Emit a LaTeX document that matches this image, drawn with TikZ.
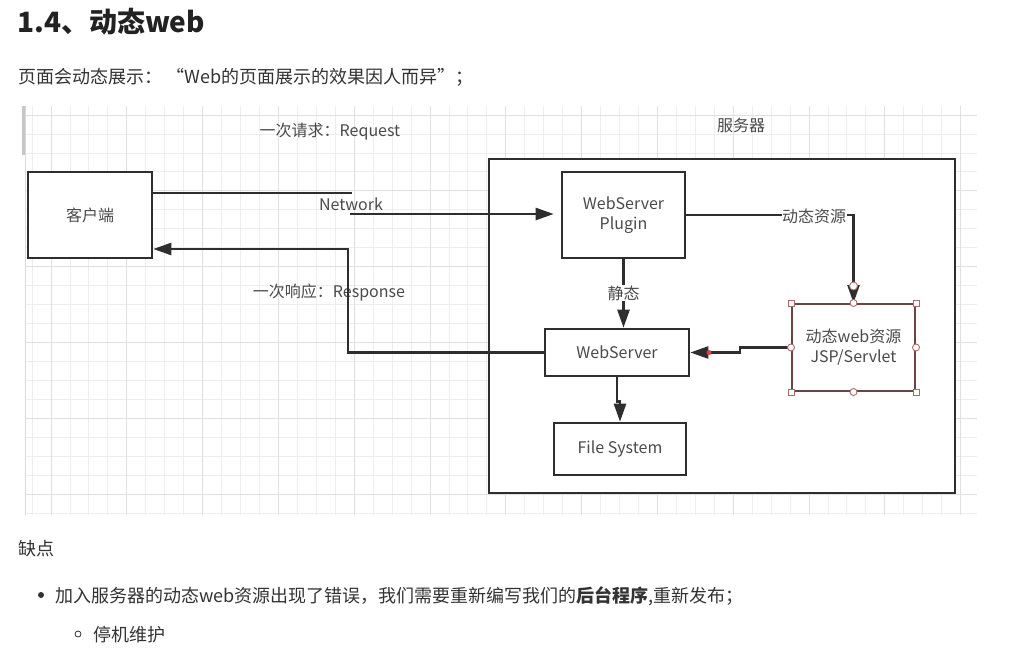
\documentclass[tikz,border=0pt]{standalone}
\usepackage{fontspec}
\setmainfont{Noto Sans CJK SC}
\usetikzlibrary{arrows.meta}
\definecolor{ln}{HTML}{2E2E2E}
\definecolor{tx}{HTML}{4A4A4A}
\definecolor{pg}{HTML}{333333}
\definecolor{ttl}{HTML}{222222}
\definecolor{gmin}{HTML}{EEEEEE}
\definecolor{gmaj}{HTML}{E0E0E0}
\definecolor{jspb}{HTML}{6A4444}
\definecolor{hdl}{HTML}{B06A6A}
\definecolor{reddot}{HTML}{E04040}
\begin{document}
\begin{tikzpicture}[x=1pt,y=-1pt,
  box/.style={draw=ln,line width=2.6pt,fill=white,inner sep=0pt,align=center,text=tx,
    font=\fontsize{16}{20}\selectfont},
  lbl/.style={text=tx,font=\fontsize{16}{20}\selectfont,inner sep=1pt},
  pagetext/.style={text=pg,font=\fontsize{18}{22}\selectfont,inner sep=0pt},
  conn/.style={draw=ln,line width=2.4pt,-{Triangle[length=18pt,width=12pt]}},
  plain/.style={draw=ln,line width=2.4pt},
  sqh/.style={draw=hdl,fill=white,line width=0.9pt,inner sep=0pt,minimum size=6pt},
  cih/.style={draw=hdl,fill=white,line width=0.9pt,circle,inner sep=0pt,minimum size=7pt}]
\fill[white] (0,0) rectangle (1015,651);
\useasboundingbox (0,0) rectangle (1015,651);
% grid
\foreach \i in {0,...,49} {\pgfmathsetmacro\gx{32+18.95*\i}
  \draw[gmin,line width=0.8pt] (\gx,106) -- (\gx,515);}
\foreach \i in {0,...,21} {\pgfmathsetmacro\gy{115+18.95*\i}
  \draw[gmin,line width=0.8pt] (25,\gy) -- (977,\gy);}
\foreach \i in {0,...,12} {\pgfmathsetmacro\gx{51+75.8*\i}
  \draw[gmaj,line width=1pt] (\gx,106) -- (\gx,515);}
\foreach \i in {0,...,5} {\pgfmathsetmacro\gy{115+75.8*\i}
  \draw[gmaj,line width=1pt] (25,\gy) -- (977,\gy);}
\fill[gray!45] (22,106) rectangle (25,155);
\draw[gray!30,line width=1pt] (25,106) -- (25,515);
% page text
\node[anchor=base west,text=ttl,inner sep=0pt,font=\fontsize{28}{30}\selectfont\bfseries] (title) at (17,32) {1.4、动态web};
\node[anchor=base west,pagetext] (sub) at (18,83) {页面会动态展示： “Web的页面展示的效果因人而异”；};
\node[anchor=base west,pagetext] (defect) at (18,555) {缺点};
\node[circle,fill=pg,inner sep=0pt,minimum size=6pt] (dot1) at (41,595) {};
\node[anchor=base west,pagetext] (b1) at (55,602) {加入服务器的动态web资源出现了错误，我们需要重新编写我们的\textbf{后台程序},重新发布；};
\node[circle,draw=pg,line width=0.8pt,inner sep=0pt,minimum size=6pt] (dot2) at (78,634) {};
\node[anchor=base west,pagetext] (b2) at (93,641) {停机维护};
% boxes
\node[box,minimum width=124pt,minimum height=86pt] (client) at (90,215) {客户端};
\node[box,line width=2.8pt,minimum width=466pt,minimum height=334pt] (server) at (722,326) {};
\node[box,minimum width=123pt,minimum height=86pt] (plugin) at (623.5,215) {WebServer\\Plugin};
\node[box,minimum width=144pt,minimum height=47pt] (ws) at (617,352.5) {WebServer};
\node[box,minimum width=132pt,minimum height=52pt] (fs) at (620,449) {File System};
\node[box,draw=jspb,line width=2pt,minimum width=123pt,minimum height=87pt] (jsp) at (853.5,347.5) {动态web资源\\JSP/Servlet};
% labels
\node[lbl] (lreq) at (330,132) {一次请求：Request};
\node[lbl] (lnet) at (351,204) {Network};
\node[lbl] (lsrv) at (741,125) {服务器};
\node[lbl] (lresp) at (329,293) {一次响应：Response};
% connectors
\coordinate (q1) at (352,193);
\coordinate (q2) at (350,214);
\draw[plain] (client.east |- q1) -- (q1);
\draw[conn,shorten >=7pt] (q2) -- (plugin.west |- q2);
\coordinate (r1) at (348,249);
\draw[conn] (ws.west) -| (r1) -- (client.east |- r1);
\draw[conn] (plugin.east) -| (jsp.north);
\node[lbl,fill=white,inner sep=0.5pt] (ldyn) at (814,216) {动态资源};
\draw[conn] (plugin.south) -- (plugin.south |- ws.north);
\node[lbl,fill=white,inner sep=1pt] (lsta) at (623.5,293) {静态};
\draw[conn] (jsp.west) -- ++(-51,0) |- (ws.east);
\draw[conn] (ws.south) -- ++(0,24) -| (fs.north);
\node[circle,fill=reddot,inner sep=0pt,minimum size=5pt] (rdot) at (709,352.5) {};
% selection handles
\node[sqh] (h1) at (jsp.north west) {};
\node[sqh] (h2) at (jsp.north east) {};
\node[sqh] (h3) at (jsp.south west) {};
\node[sqh] (h4) at (jsp.south east) {};
\node[cih] (h5) at (jsp.north) {};
\node[cih] (h6) at (jsp.south) {};
\node[cih] (h7) at (jsp.west) {};
\node[cih] (h8) at (jsp.east) {};
\node[cih,minimum size=8pt] (h9) at (853.5,286) {};
\end{tikzpicture}
\end{document}
